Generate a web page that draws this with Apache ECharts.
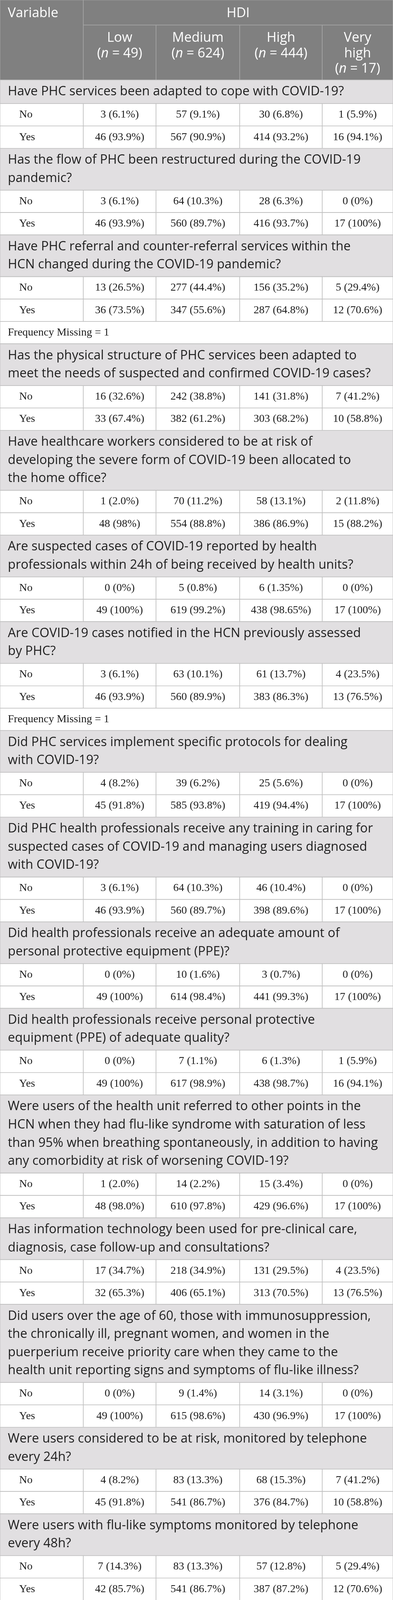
<!DOCTYPE html>
<html>
<head>
    <meta charset="utf-8">
    <title>PHC adaptation to COVID-19 by HDI</title>
    <script src="https://cdn.jsdelivr.net/npm/echarts@6.0.0/dist/echarts.min.js"></script>
    <style>
        html, body {
            margin: 0;
            padding: 0;
            background: #fff;
        }
        #table {
            width: 1005px;
            height: 4400px;
        }
    </style>
</head>
<body>
    <div id="table"></div>
    <script>
        // column groups (HDI) and their sizes
        var hdiLevels = ['Low', 'Medium', 'High', 'Very\nhigh'];
        var hdiN = [49, 624, 444, 17];
        var answers = ['No', 'Yes'];

        // questions, line breaks as in the printed table
        var questions = [
            'Have PHC services been adapted to cope with COVID-19?',
            'Has the flow of PHC been restructured during the COVID-19\npandemic?',
            'Have PHC referral and counter-referral services within the\nHCN changed during the COVID-19 pandemic?',
            'Has the physical structure of PHC services been adapted to\nmeet the needs of suspected and confirmed COVID-19 cases?',
            'Have healthcare workers considered to be at risk of\ndeveloping the severe form of COVID-19 been allocated to\nthe home office?',
            'Are suspected cases of COVID-19 reported by health\nprofessionals within 24h of being received by health units?',
            'Are COVID-19 cases notified in the HCN previously assessed\nby PHC?',
            'Did PHC services implement specific protocols for dealing\nwith COVID-19?',
            'Did PHC health professionals receive any training in caring for\nsuspected cases of COVID-19 and managing users diagnosed\nwith COVID-19?',
            'Did health professionals receive an adequate amount of\npersonal protective equipment (PPE)?',
            'Did health professionals receive personal protective\nequipment (PPE) of adequate quality?',
            'Were users of the health unit referred to other points in the\nHCN when they had flu-like syndrome with saturation of less\nthan 95% when breathing spontaneously, in addition to having\nany comorbidity at risk of worsening COVID-19?',
            'Has information technology been used for pre-clinical care,\ndiagnosis, case follow-up and consultations?',
            'Did users over the age of 60, those with immunosuppression,\nthe chronically ill, pregnant women, and women in the\npuerperium receive priority care when they came to the\nhealth unit reporting signs and symptoms of flu-like illness?',
            'Were users considered to be at risk, monitored by telephone\nevery 24h?',
            'Were users with flu-like symptoms monitored by telephone\nevery 48h?'
        ];

        // counts per question: [Low, Medium, High, Very high]
        var noCounts = [
            [3, 57, 30, 1], [3, 64, 28, 0], [13, 277, 156, 5], [16, 242, 141, 7],
            [1, 70, 58, 2], [0, 5, 6, 0], [3, 63, 61, 4], [4, 39, 25, 0],
            [3, 64, 46, 0], [0, 10, 3, 0], [0, 7, 6, 1], [1, 14, 15, 0],
            [17, 218, 131, 4], [0, 9, 14, 0], [4, 83, 68, 7], [7, 83, 57, 5]
        ];
        var noPercents = [
            ['6.1', '9.1', '6.8', '5.9'], ['6.1', '10.3', '6.3', '0'], ['26.5', '44.4', '35.2', '29.4'], ['32.6', '38.8', '31.8', '41.2'],
            ['2.0', '11.2', '13.1', '11.8'], ['0', '0.8', '1.35', '0'], ['6.1', '10.1', '13.7', '23.5'], ['8.2', '6.2', '5.6', '0'],
            ['6.1', '10.3', '10.4', '0'], ['0', '1.6', '0.7', '0'], ['0', '1.1', '1.3', '5.9'], ['2.0', '2.2', '3.4', '0'],
            ['34.7', '34.9', '29.5', '23.5'], ['0', '1.4', '3.1', '0'], ['8.2', '13.3', '15.3', '41.2'], ['14.3', '13.3', '12.8', '29.4']
        ];
        var yesCounts = [
            [46, 567, 414, 16], [46, 560, 416, 17], [36, 347, 287, 12], [33, 382, 303, 10],
            [48, 554, 386, 15], [49, 619, 438, 17], [46, 560, 383, 13], [45, 585, 419, 17],
            [46, 560, 398, 17], [49, 614, 441, 17], [49, 617, 438, 16], [48, 610, 429, 17],
            [32, 406, 313, 13], [49, 615, 430, 17], [45, 541, 376, 10], [42, 541, 387, 12]
        ];
        var yesPercents = [
            ['93.9', '90.9', '93.2', '94.1'], ['93.9', '89.7', '93.7', '100'], ['73.5', '55.6', '64.8', '70.6'], ['67.4', '61.2', '68.2', '58.8'],
            ['98', '88.8', '86.9', '88.2'], ['100', '99.2', '98.65', '100'], ['93.9', '89.9', '86.3', '76.5'], ['91.8', '93.8', '94.4', '100'],
            ['93.9', '89.7', '89.6', '100'], ['100', '98.4', '99.3', '100'], ['100', '98.9', '98.7', '94.1'], ['98.0', '97.8', '96.6', '100'],
            ['65.3', '65.1', '70.5', '76.5'], ['100', '98.6', '96.9', '100'], ['91.8', '86.7', '84.7', '58.8'], ['85.7', '86.7', '87.2', '70.6']
        ];
        // frequency missing per question (0 = no note row)
        var freqMissing = [0, 0, 1, 0, 0, 0, 1, 0, 0, 0, 0, 0, 0, 0, 0, 0];

        // layout in table units; the y axis squeezes them into the visible window
        var tableW = 1005, tableH = 4400;
        var colEdges = [0, 213, 399, 613, 824, 1005];
        var headTopH = 69, headSubH = 151;
        var rowH = 61.5, qPad = 15, qLineH = 50;

        var box = document.getElementById('table');
        var viewH = Math.min(window.innerHeight || tableH, tableH);
        box.style.height = viewH + 'px';
        var yScale = viewH / tableH;

        var sansFont = "'Open Sans', 'Noto Sans', sans-serif";
        var serifFont = "'Liberation Serif', 'DejaVu Serif', serif";

        var kindStyle = {
            head: { fill: '#808080', stroke: '#a4a4a4' },
            question: { fill: '#e1dfe1', stroke: '#c0c0c0' },
            body: { fill: '#ffffff', stroke: '#c0c0c0' }
        };

        // build the cell list the custom series draws
        var cells = [];
        function addCell(x0, y0, x1, y1, kind, label) {
            cells.push({ box: [x0, y0, x1, y1], kind: kind, label: label });
        }

        // header
        addCell(0, 0, colEdges[1], headTopH + headSubH, 'head', { text: 'Variable', pos: 'left', style: 'headBig', yMid: 37 });
        addCell(colEdges[1], 0, tableW, headTopH, 'head', { text: 'HDI', pos: 'center', style: 'headBig', yMid: 37 });
        hdiLevels.forEach(function (lvl, i) {
            var lines = lvl.split('\n').map(function (s) { return '{h|' + s + '}'; });
            lines.push('{h|(}{hi|n}{h| = ' + hdiN[i] + ')}');
            addCell(colEdges[i + 1], headTopH, colEdges[i + 2], headTopH + headSubH, 'head',
                { text: lines.join('\n'), pos: 'center', style: 'headSub', yTop: headTopH + 15 });
        });

        var y = headTopH + headSubH;
        questions.forEach(function (q, qi) {
            var nLines = q.split('\n').length;
            var h = qPad + qLineH * nLines;
            addCell(0, y, tableW, y + h, 'question', { text: q, pos: 'left', style: 'question' });
            y += h;
            [noCounts, yesCounts].forEach(function (counts, ai) {
                var pcts = ai === 0 ? noPercents : yesPercents;
                addCell(0, y, colEdges[1], y + rowH, 'body', { text: answers[ai], pos: 'answer', style: 'body' });
                for (var c = 0; c < 4; c++) {
                    addCell(colEdges[c + 1], y, colEdges[c + 2], y + rowH, 'body',
                        { text: counts[qi][c] + ' (' + pcts[qi][c] + '%)', pos: 'center', style: 'body' });
                }
                y += rowH;
            });
            if (freqMissing[qi] > 0) {
                addCell(0, y, tableW, y + rowH, 'body', { text: 'Frequency Missing = ' + freqMissing[qi], pos: 'left', style: 'body' });
                y += rowH;
            }
        });

        var headLineH = 42 * yScale;
        var textStyles = {
            headBig: { fill: '#ffffff', fontFamily: sansFont, fontSize: 34 },
            headSub: { fill: '#ffffff', fontFamily: sansFont, fontSize: 34, lineHeight: headLineH },
            question: { fill: '#1e1e1e', fontFamily: sansFont, fontSize: 32.5, lineHeight: qLineH * yScale },
            body: { fill: '#1a1a1a', fontFamily: serifFont, fontSize: 28 }
        };

        function renderCell(params, api) {
            var cell = cells[params.dataIndex];
            var p0 = api.coord([api.value(0), api.value(1)]);
            var p1 = api.coord([api.value(2), api.value(3)]);
            var st = kindStyle[cell.kind];
            var lb = cell.label;
            var ts = textStyles[lb.style];
            var tx, align;
            if (lb.pos === 'left') { tx = p0[0] + 20; align = 'left'; }
            else if (lb.pos === 'answer') { tx = p0[0] + 49; align = 'left'; }
            else { tx = (p0[0] + p1[0]) / 2; align = 'center'; }
            var ty, vAlign = 'middle';
            if (lb.yMid != null) { ty = api.coord([0, lb.yMid])[1]; }
            else if (lb.yTop != null) { ty = api.coord([0, lb.yTop])[1]; vAlign = 'top'; }
            else { ty = (p0[1] + p1[1]) / 2; }

            var textStyle = {
                text: lb.text,
                x: tx,
                y: ty,
                align: align,
                verticalAlign: vAlign,
                fill: ts.fill,
                fontFamily: ts.fontFamily,
                fontSize: ts.fontSize,
                lineHeight: ts.lineHeight
            };
            if (lb.style === 'headSub') {
                textStyle.rich = {
                    h: { fill: '#ffffff', fontFamily: sansFont, fontSize: 34, lineHeight: headLineH },
                    hi: { fill: '#ffffff', fontFamily: sansFont, fontSize: 34, fontStyle: 'italic', lineHeight: headLineH }
                };
            }
            return {
                type: 'group',
                children: [{
                    type: 'rect',
                    shape: { x: p0[0], y: p0[1], width: p1[0] - p0[0], height: p1[1] - p0[1] },
                    style: { fill: st.fill, stroke: st.stroke, lineWidth: 1.6 }
                }, {
                    type: 'text',
                    style: textStyle
                }]
            };
        }

        var chart = echarts.init(box, null, { renderer: 'canvas' });
        chart.setOption({
            animation: false,
            grid: { left: 0, right: 0, top: 0, bottom: 0 },
            xAxis: { type: 'value', min: 0, max: tableW, show: false },
            yAxis: { type: 'value', min: 0, max: tableH, inverse: true, show: false },
            series: [{
                type: 'custom',
                renderItem: renderCell,
                encode: { x: [0, 2], y: [1, 3] },
                data: cells.map(function (c) { return c.box; }),
                silent: true
            }]
        });
    </script>
</body>
</html>
